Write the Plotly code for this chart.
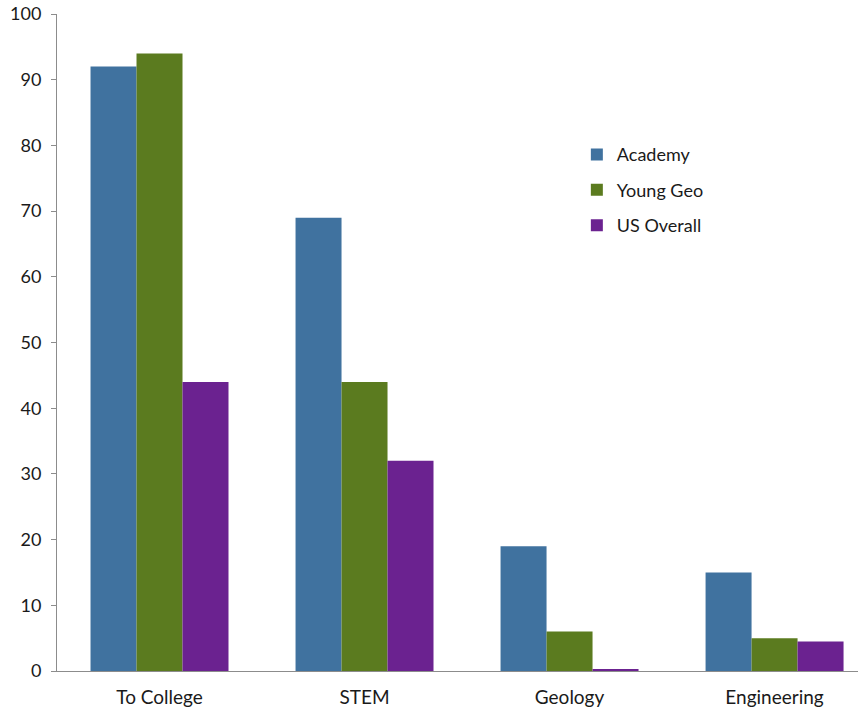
import plotly.graph_objects as go

categories = ["To College", "STEM", "Geology", "Engineering"]
academy = [92, 69, 19, 15]
young_geo = [94, 44, 6, 5]
us_overall = [44, 32, 0.3, 4.5]
y_ticks = [0, 10, 20, 30, 40, 50, 60, 70, 80, 90, 100]

series = [
    ("Academy", academy, "#40729F"),
    ("Young Geo", young_geo, "#5B7B1F"),
    ("US Overall", us_overall, "#6B2290"),
]

fig = go.Figure()
for name, vals, color in series:
    fig.add_trace(go.Bar(
        x=categories, y=vals, name=name, legendgroup=name,
        marker=dict(color=color, line=dict(width=0)),
    ))

fig.update_layout(
    width=858, height=712,
    margin=dict(l=57, r=0, t=14, b=41),
    paper_bgcolor="white", plot_bgcolor="white",
    barmode="group", bargap=0.327, bargroupgap=0,
    font=dict(family="Lato, Open Sans, sans-serif", size=18, color="#1a1a1a"),
    legend=dict(x=0.649, y=0.814, xanchor="left", yanchor="top",
                bgcolor="rgba(0,0,0,0)", tracegroupgap=9,
                font=dict(size=18)),
    xaxis=dict(range=[-0.5, 3.407], showline=True, linecolor="#8c8c8c",
               linewidth=1, ticks="", showgrid=False, zeroline=False,
               ticklabelstandoff=9, tickfont=dict(size=19)),
    yaxis=dict(range=[0, 100], tickvals=y_ticks, showline=True,
               linecolor="#8c8c8c", linewidth=1, ticks="outside",
               ticklen=5, tickcolor="#8c8c8c", showgrid=False,
               zeroline=False, ticklabelstandoff=6),
)

fig.write_html("out.html")
